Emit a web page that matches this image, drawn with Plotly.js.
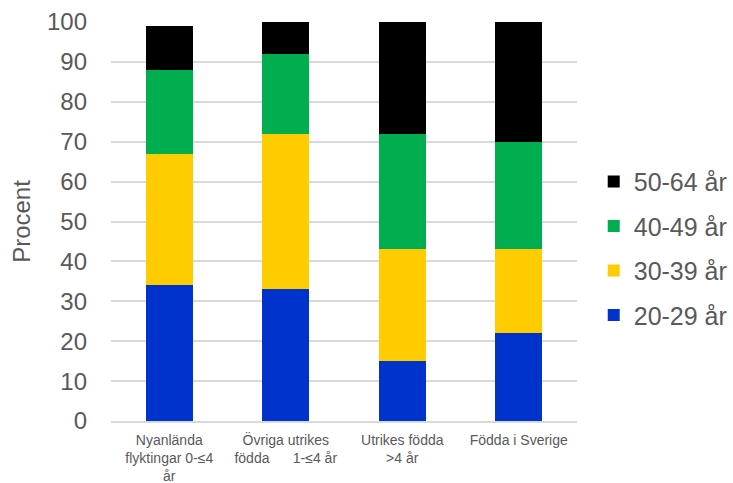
<!DOCTYPE html>
<html><head><meta charset="utf-8">
<script src="https://cdn.plot.ly/plotly-3.0.1.min.js"></script>
<style>body{margin:0}</style>
</head><body>
<div id="chart" style="width:733px;height:483px"></div>
<script>
const categories = ["Nyanlända<br>flyktingar 0-≤4<br>år", "Övriga utrikes<br>födda\u00a0\u00a0\u00a0\u00a0\u00a0\u00a01-≤4 år", "Utrikes födda<br>>4 år", "Födda i Sverige"];
const seriesNames = ["20-29 år", "30-39 år", "40-49 år", "50-64 år"];
const v2029 = [34, 33, 15, 22];
const v3039 = [33, 39, 28, 21];
const v4049 = [21, 20, 29, 27];
const v5064 = [11, 8, 28, 30];
const colors = ["#0033CC", "#FFCC00", "#00AD4F", "#000000"];
const values = [v2029, v3039, v4049, v5064];

const traces = values.map((v, i) => ({
  type: "bar", x: categories, y: v, name: seriesNames[i],
  marker: {color: colors[i]}, legendgroup: "g" + i, legendrank: 10 - i
}));

const layout = {
  width: 733, height: 483,
  margin: {l: 111, r: 156, t: 22, b: 62},
  barmode: "stack", bargap: 0.6,
  paper_bgcolor: "#fff", plot_bgcolor: "#fff",
  font: {family: "Liberation Sans, Arial, sans-serif", color: "#595959"},
  xaxis: {tickfont: {size: 14}, showline: true, linecolor: "#D9D9D9", linewidth: 2, ticks: "",
          ticklabelstandoff: 5, fixedrange: true},
  yaxis: {range: [0, 100], dtick: 10, tickfont: {size: 24}, gridcolor: "#D9D9D9", gridwidth: 2,
          zeroline: false, ticklabelstandoff: 23,
          title: {text: "Procent", font: {size: 24}, standoff: 9}},
  legend: {xref: "container", yref: "container", x: 0.81, y: 0.486, yanchor: "middle", xanchor: "left",
           font: {size: 25}, traceorder: "grouped", tracegroupgap: 9},
  showlegend: true
};
Plotly.newPlot("chart", traces, layout, {displayModeBar: false});
</script>
</body></html>
